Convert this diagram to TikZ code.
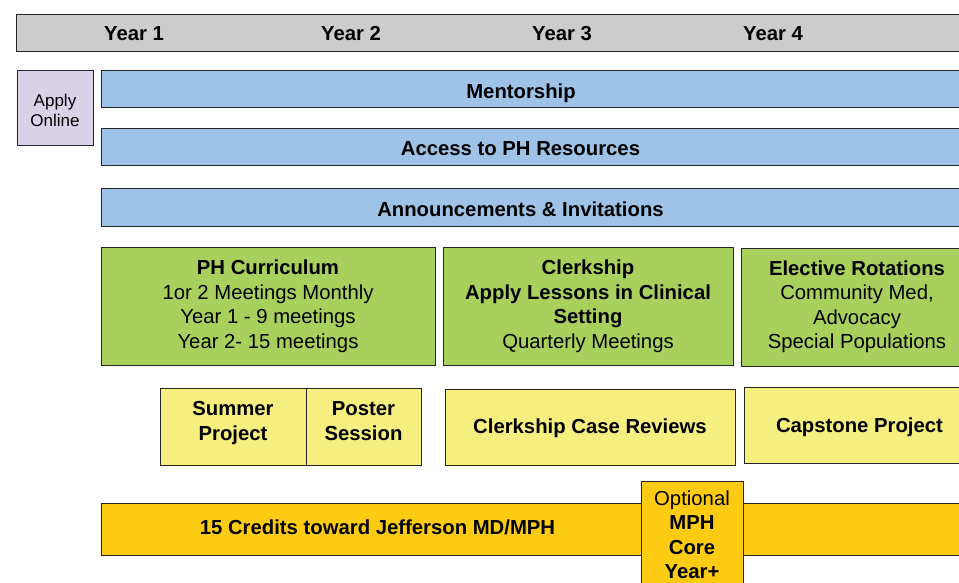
\documentclass[tikz,border=0pt]{standalone}
\usepackage{fontspec}
\setmainfont{Liberation Sans}
\definecolor{boxline}{HTML}{262626}
\definecolor{yearfill}{HTML}{CCCCCC}
\definecolor{applyfill}{HTML}{D9D2E9}
\definecolor{bluefill}{HTML}{9FC3E6}
\definecolor{greenfill}{HTML}{A8D05C}
\definecolor{yellowfill}{HTML}{F6EF80}
\definecolor{orangefill}{HTML}{FCCB12}
\begin{document}
\begin{tikzpicture}[x=1pt,y=-1pt,
  box/.style={draw=boxline, line width=1pt, rectangle, anchor=north west,
    inner sep=0pt, outer sep=0pt, align=center,
    font=\fontsize{20.3}{24.5}\selectfont},
  yearbar/.style={box, fill=yearfill},
  applybox/.style={box, fill=applyfill},
  bluebar/.style={box, fill=bluefill},
  greenbox/.style={box, fill=greenfill},
  yellowbox/.style={box, fill=yellowfill},
  orangebar/.style={box, fill=orangefill},
  lbl/.style={font=\fontsize{20.3}{24.5}\selectfont\bfseries, inner sep=0pt,
    anchor=base, align=center},
  toplbl/.style={lbl, anchor=north},
  applylbl/.style={font=\fontsize{17}{20}\selectfont, inner sep=0pt, align=center},
]
\useasboundingbox (0,0) rectangle (959,583);
\clip (0,0) rectangle (959,583);

% timeline header
\node[yearbar, minimum width=980, minimum height=37] (years) at (16,15) {};
\node[lbl] (y1) at (134,40.5) {Year 1};
\node[lbl] (y2) at (351,40.5) {Year 2};
\node[lbl] (y3) at (562,40.5) {Year 3};
\node[lbl] (y4) at (773,40.5) {Year 4};

% application
\node[applybox, minimum width=76, minimum height=75] (apply) at (17,71) {};
\node[applylbl] (applylbl) at (55,110.5) {Apply\\Online};

% program-wide support bars
\node[bluebar, minimum width=880, minimum height=37] (ment) at (101,71) {};
\node[lbl] (mentlbl) at (521,98.5) {Mentorship};
\node[bluebar, minimum width=880, minimum height=37] (access) at (101,129) {};
\node[lbl] (accesslbl) at (520.5,156) {Access to PH Resources};
\node[bluebar, minimum width=880, minimum height=37] (annc) at (101,189) {};
\node[lbl] (annclbl) at (520.5,216) {Announcements \& Invitations};

% curriculum phases
\node[greenbox, minimum width=334, minimum height=118] (phcur) at (101,247)
  {\textbf{PH Curriculum}\\1or 2 Meetings Monthly\\Year 1 - 9 meetings\\Year 2- 15 meetings};
\node[greenbox, minimum width=290, minimum height=118] (clerk) at (443,247)
  {\textbf{Clerkship}\\\textbf{Apply Lessons in Clinical}\\\textbf{Setting}\\Quarterly Meetings};
\node[greenbox, minimum width=232, minimum height=118] (elect) at (741,248)
  {\textbf{Elective Rotations}\\Community Med,\\Advocacy\\Special Populations};

% projects
\node[yellowbox, minimum width=146, minimum height=77] (summer) at (160,388) {};
\node[toplbl] (summerlbl) at (233,401.5) {Summer\\Project};
\node[yellowbox, minimum width=115, minimum height=77] (poster) at (306,388) {};
\node[toplbl] (posterlbl) at (363.5,401.5) {Poster\\Session};
\node[yellowbox, minimum width=290, minimum height=76] (cases) at (445,389) {};
\node[lbl] (caseslbl) at (590,433.5) {Clerkship Case Reviews};
\node[yellowbox, minimum width=231, minimum height=76] (capst) at (744,387) {};
\node[lbl] (capstlbl) at (859.5,432) {Capstone Project};

% credits
\node[orangebar, minimum width=880, minimum height=52] (credits) at (101,503) {};
\node[lbl] (creditslbl) at (377.5,534) {15 Credits toward Jefferson MD/MPH};
\node[box, fill=orangefill, anchor=north, minimum width=102,
  inner ysep=9.5pt, text width=102, align=center] (opt) at (692,481)
  {Optional\\\textbf{MPH}\\\textbf{Core}\\\textbf{Year+}};
\end{tikzpicture}
\end{document}
